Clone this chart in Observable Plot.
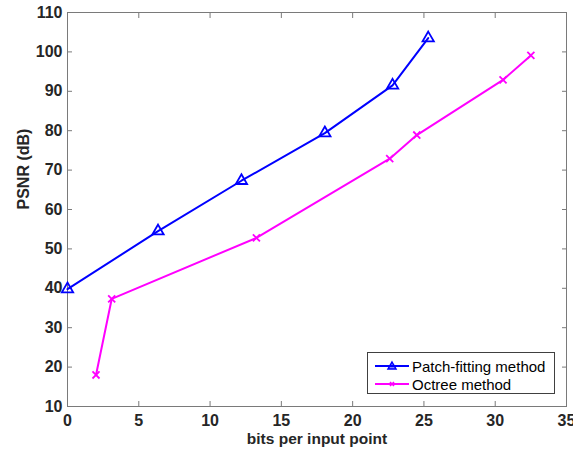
<!DOCTYPE html>
<html>
<head>
<meta charset="utf-8">
<script src="https://cdn.jsdelivr.net/npm/d3@7"></script>
<script src="https://cdn.jsdelivr.net/npm/@observablehq/plot@0.6"></script>
<style>
  body { margin: 0; background: #fff; font-family: "Liberation Sans", Arial, sans-serif; }
  #wrap { position: relative; width: 573px; height: 456px; }
  #legend { position: absolute; left: 367px; top: 352px; width: 186px; height: 40px;
    border: 1px solid #404040; background: #fff; font-size: 15px; color: #000; }
  .row { position: absolute; left: 0; height: 18px; display: flex; align-items: center; }
  .row svg { margin-left: 7px; margin-right: 3px; }
  svg text { font-weight: bold; }
</style>
</head>
<body>
<div id="wrap"></div>
<script>
const xTicks = [0, 5, 10, 15, 20, 25, 30, 35];
const yTicks = [10, 20, 30, 40, 50, 60, 70, 80, 90, 100, 110];

const patchName = "Patch-fitting method";
const patchX = [0, 6.35, 12.2, 18.05, 22.8, 25.3];
const patchY = [39.8, 54.5, 67.3, 79.4, 91.5, 103.5];

const octName = "Octree method";
const octX = [2.0, 3.1, 13.25, 22.6, 24.5, 30.55, 32.5];
const octY = [18.0, 37.3, 52.8, 72.9, 78.9, 92.9, 99.1];

const xLabel = "bits per input point";
const yLabel = "PSNR (dB)";

const blue = "#0000ff";
const magenta = "#ff00ff";
const axisGray = "#7a7a7a";
const textColor = "#262626";

const patch = patchX.map((x, i) => ({x, y: patchY[i]}));
const oct = octX.map((x, i) => ({x, y: octY[i]}));

const chart = Plot.plot({
  width: 573,
  height: 456,
  marginLeft: 67,
  marginRight: 7,
  marginTop: 12,
  marginBottom: 50,
  style: {fontFamily: "Liberation Sans, Arial, sans-serif", fontSize: "16px", fontWeight: "bold", background: "#fff"},
  x: {domain: [0, 35], ticks: xTicks},
  y: {domain: [10, 110], ticks: yTicks},
  marks: [
    Plot.frame({stroke: axisGray}),
    Plot.axisX(xTicks, {anchor: "bottom", tickSize: -5, tickPadding: 13, stroke: axisGray, fill: textColor, fontSize: 16, fontWeight: "bold", label: null}),
    Plot.axisX(xTicks, {anchor: "top", tickSize: -5, stroke: axisGray, label: null, tickFormat: () => ""}),
    Plot.axisY(yTicks, {anchor: "left", tickSize: -5, tickPadding: 10, stroke: axisGray, fill: textColor, fontSize: 16, fontWeight: "bold", label: null}),
    Plot.axisY(yTicks, {anchor: "right", tickSize: -5, stroke: axisGray, label: null, tickFormat: () => ""}),
    Plot.text([xLabel], {frameAnchor: "bottom", dy: 37, fontSize: 15.5, fontWeight: "bold", fill: textColor}),
    Plot.text([yLabel], {frameAnchor: "left", dx: -44, rotate: -90, fontSize: 16, fontWeight: "bold", fill: textColor}),
    Plot.line(patch, {x: "x", y: "y", stroke: blue, strokeWidth: 2}),
    Plot.dot(patch, {x: "x", y: "y", symbol: "triangle", r: 4.2, stroke: blue, strokeWidth: 1.8, fill: "none"}),
    Plot.line(oct, {x: "x", y: "y", stroke: magenta, strokeWidth: 2}),
    Plot.dot(oct, {x: "x", y: "y", symbol: "times", r: 3.3, stroke: magenta, strokeWidth: 1.8})
  ]
});

const wrap = document.getElementById("wrap");
wrap.appendChild(chart);

const legend = document.createElement("div");
legend.id = "legend";
function row(top, color, marker, name) {
  const r = document.createElement("div");
  r.className = "row";
  r.style.top = top + "px";
  const m = marker === "tri"
    ? `<polygon points="17,5 21,12 13,12" fill="${color}" fill-opacity="0.5" stroke="${color}" stroke-width="1.5"/>`
    : `<path d="M15,7 L19,11 M19,7 L15,11" stroke="${color}" stroke-width="1.6"/>`;
  r.innerHTML = `<svg width="34" height="18"><line x1="0" y1="9" x2="34" y2="9" stroke="${color}" stroke-width="2"/>${m}</svg><span>${name}</span>`;
  legend.appendChild(r);
}
row(4, blue, "tri", patchName);
row(22, magenta, "x", octName);
wrap.appendChild(legend);
</script>
</body>
</html>
